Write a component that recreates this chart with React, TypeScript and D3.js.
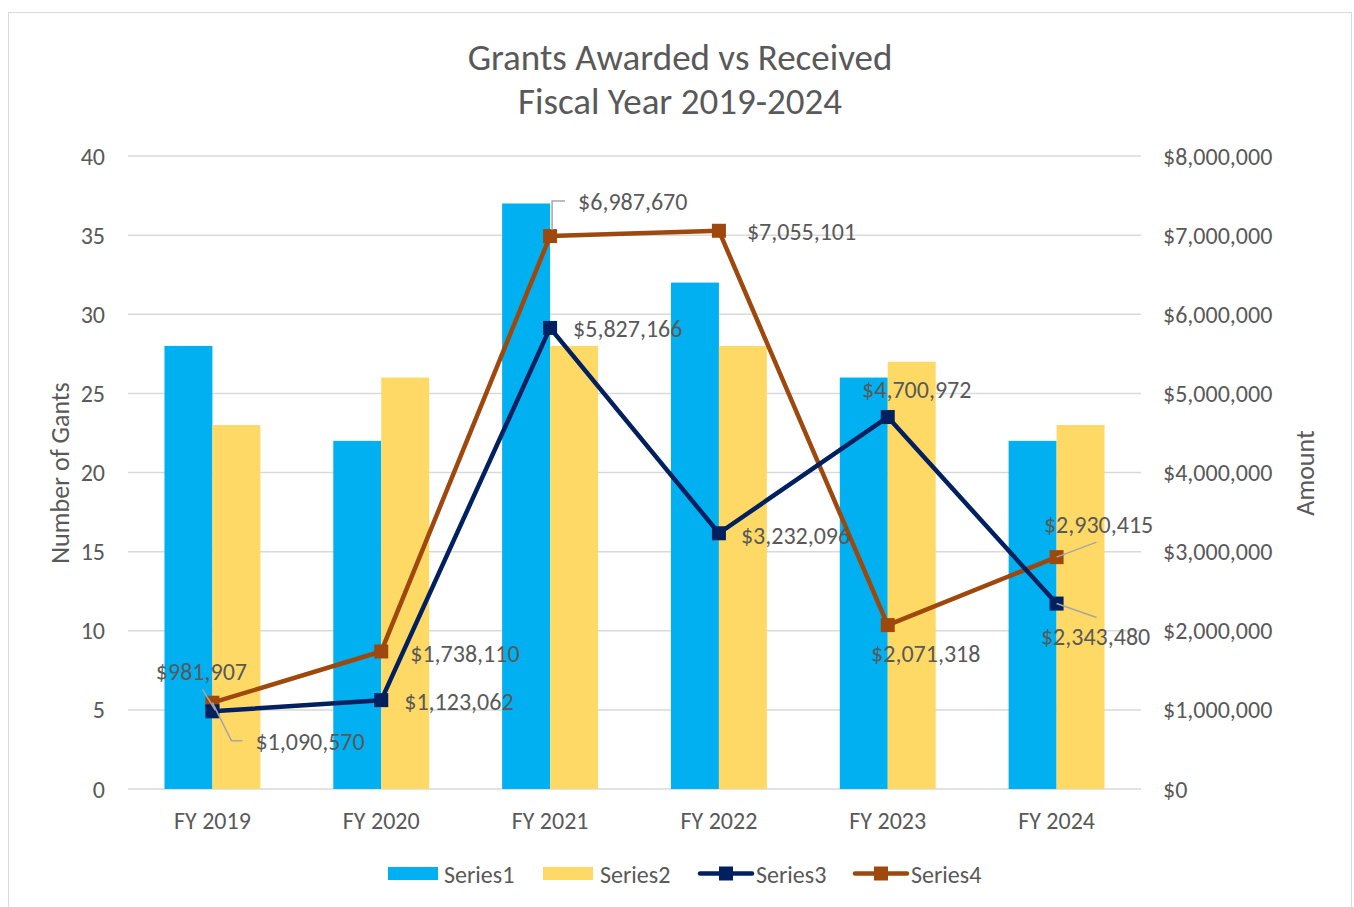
import React from "react";
import * as d3 from "d3";

const categories = ["FY 2019", "FY 2020", "FY 2021", "FY 2022", "FY 2023", "FY 2024"];
const series1 = [28, 22, 37, 32, 26, 22];
const series2 = [23, 26, 28, 28, 27, 23];
const series3 = [981907, 1123062, 5827166, 3232096, 4700972, 2343480];
const series4 = [1090570, 1738110, 6987670, 7055101, 2071318, 2930415];
const leftTicks = [0, 5, 10, 15, 20, 25, 30, 35, 40];
const rightTicks = [0, 1000000, 2000000, 3000000, 4000000, 5000000, 6000000, 7000000, 8000000];
const seriesNames = ["Series1", "Series2", "Series3", "Series4"];

// label placement: [dx, dy, anchor, leader?]
type Place = { dx: number; dy: number; anchor: "start" | "middle" | "end"; leader?: [number, number][] };
const place3: Place[] = [
  { dx: -11, dy: -40, anchor: "middle", leader: [[-10, -22], [3, -1]] },
  { dx: 23, dy: 1, anchor: "start" },
  { dx: 23, dy: 1, anchor: "start" },
  { dx: 22, dy: 2, anchor: "start" },
  { dx: 29, dy: -28, anchor: "middle" },
  { dx: 39, dy: 33, anchor: "middle", leader: [[0, 0], [40, 14]] },
];
const place4: Place[] = [
  { dx: 43, dy: 39, anchor: "start", leader: [[0, 0], [19, 38], [30, 38]] },
  { dx: 29, dy: 2, anchor: "start" },
  { dx: 28, dy: -35, anchor: "start", leader: [[2, -6], [2, -35], [15, -35]] },
  { dx: 28, dy: 1, anchor: "start" },
  { dx: 38, dy: 28, anchor: "middle" },
  { dx: 42, dy: -33, anchor: "middle", leader: [[0, 0], [40, -15]] },
];

const FONT = "Calibri, Carlito, Lato, 'Open Sans', sans-serif";
const TXT = "#595959";
const FS = 24;

export default function App() {
  const W = 1354, H = 907;
  const left = 128, right = 1141, top = 156, bottom = 789;
  const x = d3.scaleBand<string>().domain(categories).range([left, right]).paddingInner(0.432).paddingOuter(0.216);
  const yL = d3.scaleLinear().domain([0, 40]).range([bottom, top]);
  const yR = d3.scaleLinear().domain([0, 8000000]).range([bottom, top]);
  const bw = x.bandwidth() / 2;
  const cx = (c: string) => (x(c) as number) + x.bandwidth() / 2;
  const fmt = (v: number) => "$" + d3.format(",")(v);
  const line = d3.line<number>().x((_, i) => cx(categories[i])).y((v) => yR(v));
  const c1 = "#00B0F0", c2 = "#FFD966", c3 = "#002060", c4 = "#9E480E";

  const labels = (vals: number[], pl: Place[], key: string) =>
    vals.map((v, i) => {
      const px = cx(categories[i]);
      const py = yR(v);
      const p = pl[i];
      return (
        <g key={key + i}>
          {p.leader && (
            <polyline
              points={p.leader.map(([a, b]) => `${px + a},${py + b}`).join(" ")}
              fill="none"
              stroke="#A6A6A6"
              strokeWidth={1.5}
            />
          )}
          <text x={px + p.dx} y={py + p.dy} textAnchor={p.anchor} dominantBaseline="central" fontSize={FS} fill={TXT}>
            {fmt(v)}
          </text>
        </g>
      );
    });

  return (
    <svg width={W} height={H} style={{ position: "absolute", left: 0, top: 0 }} fontFamily={FONT}>
      <rect x={0} y={0} width={W} height={H} fill="#fff" />
      <rect x={8.5} y={12.5} width={1343} height={905} fill="#fff" stroke="#D9D9D9" strokeWidth={1} />
      <text x={680} y={57} textAnchor="middle" dominantBaseline="central" fontSize={37} fill={TXT}>
        Grants Awarded vs Received
      </text>
      <text x={680} y={101} textAnchor="middle" dominantBaseline="central" fontSize={37} fill={TXT}>
        Fiscal Year 2019-2024
      </text>
      {leftTicks.map((t) => (
        <line key={"g" + t} x1={left} x2={right} y1={yL(t)} y2={yL(t)} stroke="#D9D9D9" strokeWidth={1.5} />
      ))}
      {leftTicks.map((t) => (
        <text key={"l" + t} x={105} y={yL(t)} textAnchor="end" dominantBaseline="central" fontSize={FS} fill={TXT}>
          {t}
        </text>
      ))}
      {rightTicks.map((t) => (
        <text key={"r" + t} x={1163} y={yR(t)} textAnchor="start" dominantBaseline="central" fontSize={FS} fill={TXT}>
          {fmt(t)}
        </text>
      ))}
      {categories.map((c) => (
        <text key={"c" + c} x={cx(c)} y={820} textAnchor="middle" dominantBaseline="central" fontSize={FS} fill={TXT}>
          {c}
        </text>
      ))}
      <text transform={`translate(60,473) rotate(-90)`} textAnchor="middle" dominantBaseline="central" fontSize={26} fill={TXT}>
        Number of Gants
      </text>
      <text transform={`translate(1305,473) rotate(-90)`} textAnchor="middle" dominantBaseline="central" fontSize={26} fill={TXT}>
        Amount
      </text>
      {categories.map((c, i) => (
        <g key={"b" + c}>
          <rect x={x(c)} y={yL(series1[i])} width={bw} height={bottom - yL(series1[i])} fill={c1} />
          <rect x={(x(c) as number) + bw} y={yL(series2[i])} width={bw} height={bottom - yL(series2[i])} fill={c2} />
        </g>
      ))}
      <path d={line(series4) || ""} fill="none" stroke={c4} strokeWidth={4.5} strokeLinejoin="round" />
      <path d={line(series3) || ""} fill="none" stroke={c3} strokeWidth={4.5} strokeLinejoin="round" />
      {series4.map((v, i) => (
        <rect key={"m4" + i} x={cx(categories[i]) - 7} y={yR(v) - 7} width={14} height={14} fill={c4} />
      ))}
      {series3.map((v, i) => (
        <rect key={"m3" + i} x={cx(categories[i]) - 7} y={yR(v) - 7} width={14} height={14} fill={c3} />
      ))}
      {labels(series3, place3, "l3")}
      {labels(series4, place4, "l4")}
      {/* legend */}
      <g fontSize={FS} fill={TXT}>
        <rect x={388} y={867} width={50} height={13} fill={c1} />
        <text x={444} y={874} dominantBaseline="central">{seriesNames[0]}</text>
        <rect x={543} y={867} width={50} height={13} fill={c2} />
        <text x={600} y={874} dominantBaseline="central">{seriesNames[1]}</text>
        <line x1={700} x2={752} y1={873.5} y2={873.5} stroke={c3} strokeWidth={4.5} strokeLinecap="round" />
        <rect x={719} y={866.5} width={14} height={14} fill={c3} />
        <text x={756} y={874} dominantBaseline="central">{seriesNames[2]}</text>
        <line x1={855} x2={907} y1={873.5} y2={873.5} stroke={c4} strokeWidth={4.5} strokeLinecap="round" />
        <rect x={874} y={866.5} width={14} height={14} fill={c4} />
        <text x={911} y={874} dominantBaseline="central">{seriesNames[3]}</text>
      </g>
    </svg>
  );
}
